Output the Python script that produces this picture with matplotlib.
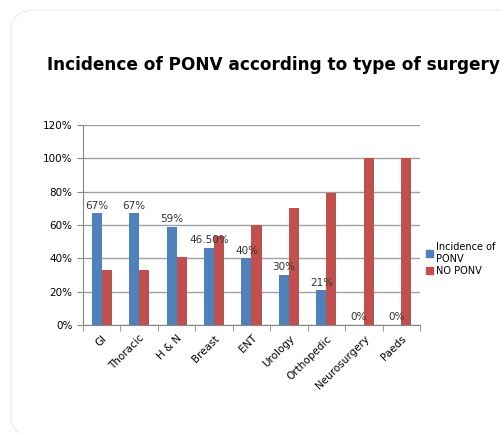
import numpy as np
import matplotlib.pyplot as plt
from matplotlib.patches import FancyBboxPatch, Patch

surgery = ['GI', 'Thoracic', 'H & N', 'Breast', 'ENT', 'Urology',
           'Orthopedic', 'Neurosurgery', 'Paeds']
ponv = [67, 67, 59, 46.5, 40, 30, 21, 0, 0]
no_ponv = [33, 33, 41, 53.5, 60, 70, 79, 100, 100]
labels = ['67%', '67%', '59%', '46.50%', '40%', '30%', '21%', '0%', '0%']

blue = '#4F81BD'
red = '#C0504D'

fig = plt.figure(figsize=(5.02, 4.33), dpi=100)
# faint rounded frame around the whole slide
frame = FancyBboxPatch((11 / 502, -0.01), 1.1, 1 - 10 / 433 + 0.01,
                       boxstyle='round,pad=0,rounding_size=0.05',
                       transform=fig.transFigure, fc='white',
                       ec='#eeeeee', lw=1, zorder=-5)
fig.patches.append(frame)
ax = fig.add_axes([83 / 502, 1 - 325 / 433, (420 - 83) / 502, 200 / 433])
ax.patch.set_alpha(0)

x = np.arange(len(surgery))
w = 0.27
ax.bar(x - w / 2, ponv, w, color=blue, zorder=2)
ax.bar(x + w / 2, no_ponv, w, color=red, zorder=2)
for xi, v, t in zip(x, ponv, labels):
    ax.text(xi - w / 2, v + 1.5, t, ha='center', va='bottom', fontsize=7.5,
            color='#333333', zorder=3)

ax.set_xlim(-0.5, len(surgery) - 0.5)
ax.set_ylim(0, 120)
ax.set_yticks(range(0, 121, 20))
ax.set_yticklabels([f'{v}%' for v in range(0, 121, 20)], fontsize=7.5)
ax.yaxis.grid(True, color='#a0a0a0', lw=1)
ax.set_axisbelow(True)
ax.set_xticks(x)
ax.set_xticklabels(surgery, rotation=45, ha='right', rotation_mode='anchor',
                   fontsize=7.5)
ax.tick_params(axis='x', length=0, pad=6)
ax.set_xticks(np.arange(-0.5, len(surgery)), minor=True)
ax.tick_params(axis='x', which='minor', length=4, color='#868686')
ax.tick_params(axis='y', length=4, color='#868686')
for s in ['top', 'right']:
    ax.spines[s].set_visible(False)
for s in ['left', 'bottom']:
    ax.spines[s].set_color('#868686')

fig.text(47 / 502, 1 - 65 / 433, 'Incidence of PONV according to type of surgery',
         fontsize=12.2, fontweight='bold', va='center', ha='left')

ax.legend(handles=[Patch(color=blue, label='Incidence of\nPONV'),
                   Patch(color=red, label='NO PONV')],
          loc='center left', bbox_to_anchor=(1.0, 0.33), frameon=False,
          fontsize=7, handlelength=0.7, handleheight=0.7, handletextpad=0.3,
          labelspacing=0.2, borderaxespad=0.2)

fig.savefig('out.png', dpi=100)
